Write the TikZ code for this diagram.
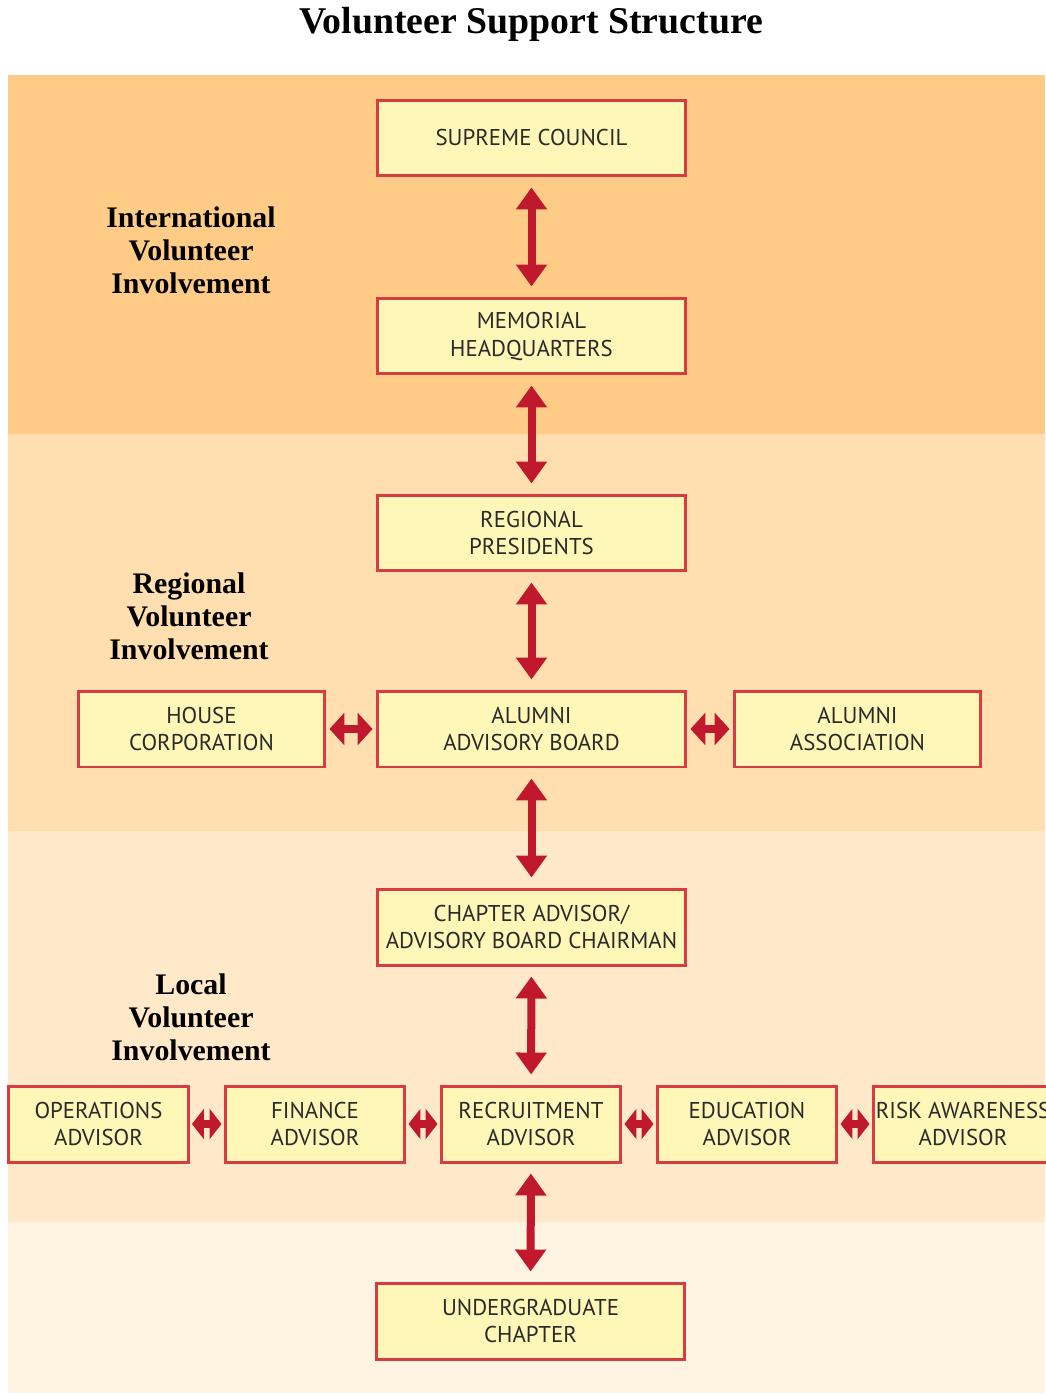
\documentclass[tikz,border=0pt]{standalone}
\usepackage{fontspec}
\setmainfont{Liberation Serif}
\newfontfamily\boxfont{PT Sans}
\usetikzlibrary{arrows.meta}
\definecolor{band1}{HTML}{FFCC88}
\definecolor{band2}{HTML}{FFDFB0}
\definecolor{band3}{HTML}{FFE9C8}
\definecolor{band4}{HTML}{FFF3E2}
\definecolor{boxfill}{HTML}{FFF7B8}
\definecolor{boxred}{HTML}{D63C42}
\definecolor{arrowred}{HTML}{C0192D}
\definecolor{boxtext}{HTML}{2A2A2A}
\tikzset{
semithick, % All lines semithick
my box/.style={draw=boxred,fill=boxfill,line width=0.06cm,minimum height=1.52cm,inner sep=0pt,
  align=center,text=boxtext,font=\boxfont\fontsize{13}{15.9}\selectfont},
wide box/.style={my box,minimum width=6.18cm},
mid box/.style={my box,minimum width=4.94cm},
small box/.style={my box,minimum width=3.6cm},
vlink/.style={draw=arrowred,line width=0.16cm,
  {Triangle[width=0.6cm,length=0.44cm]}-{Triangle[width=0.6cm,length=0.44cm]},
  shorten <=0.2cm,shorten >=0.2cm},
hlink/.style={draw=arrowred,line width=0.16cm,
  {Triangle[width=0.64cm,length=0.3cm]}-{Triangle[width=0.64cm,length=0.3cm]},
  shorten <=0.06cm,shorten >=0.06cm},
short hlink/.style={draw=arrowred,line width=0.16cm,
  {Triangle[width=0.6cm,length=0.24cm]}-{Triangle[width=0.6cm,length=0.24cm]},
  shorten <=0.04cm,shorten >=0.04cm},
group label/.style={font=\bfseries\fontsize{17}{18.7}\selectfont,align=center},
}
\begin{document}
\begin{tikzpicture}[x=0.02cm,y=-0.02cm]
\useasboundingbox (0,0) rectangle (1045,1395);
% background bands
\fill[white] (0,0) rectangle (1045,1395);
\fill[band1] (8,75) rectangle (1045,434);
\fill[band2] (8,434) rectangle (1045,831);
\fill[band3] (8,831) rectangle (1045,1222);
\fill[band4] (8,1222) rectangle (1045,1393);

\node[font=\bfseries\fontsize{21.5}{24}\selectfont] (title) at (531,24) {Volunteer Support Structure};

\node[group label] (intl)  at (191,250)  {International\\Volunteer\\Involvement};
\node[group label] (regl)  at (189,616)  {Regional\\Volunteer\\Involvement};
\node[group label] (local) at (191,1017) {Local\\Volunteer\\Involvement};

\node[wide box] (sc)  at (531.5,138)  {SUPREME COUNCIL};
\node[wide box] (mhq) at (531.5,336)  {MEMORIAL\\HEADQUARTERS};
\node[wide box] (rp)  at (531.5,533)  {REGIONAL\\PRESIDENTS};
\node[wide box] (aab) at (531.5,729)  {ALUMNI\\ADVISORY BOARD};
\node[mid box]  (hc)  at (201.5,729)  {HOUSE\\CORPORATION};
\node[mid box]  (aa)  at (857.5,729)  {ALUMNI\\ASSOCIATION};
\node[wide box] (ca)  at (531.5,927)  {CHAPTER ADVISOR/\\ADVISORY BOARD CHAIRMAN};
\node[small box] (rec) at (531,1124)  {RECRUITMENT\\ADVISOR};
\node[small box] (fin) at (315,1124)  {FINANCE\\ADVISOR};
\node[small box] (ops) at (98.5,1124) {OPERATIONS\\ADVISOR};
\node[small box] (edu) at (747,1124)  {EDUCATION\\ADVISOR};
\node[small box] (risk) at (963,1124) {RISK AWARENESS\\ADVISOR};
\node[wide box] (ug)  at (530.5,1321) {UNDERGRADUATE\\CHAPTER};

\draw[vlink] (sc) -- (mhq);
\draw[vlink] (mhq) -- (rp);
\draw[vlink] (rp) -- (aab);
\draw[vlink] (aab) -- (ca);
\draw[vlink] (ca) -- (rec);
\draw[vlink] (rec) -- (ug);

\draw[hlink] (hc) -- (aab);
\draw[hlink] (aab) -- (aa);
\draw[short hlink] (ops) -- (fin);
\draw[short hlink] (fin) -- (rec);
\draw[short hlink] (rec) -- (edu);
\draw[short hlink] (edu) -- (risk);
\end{tikzpicture}
\end{document}
